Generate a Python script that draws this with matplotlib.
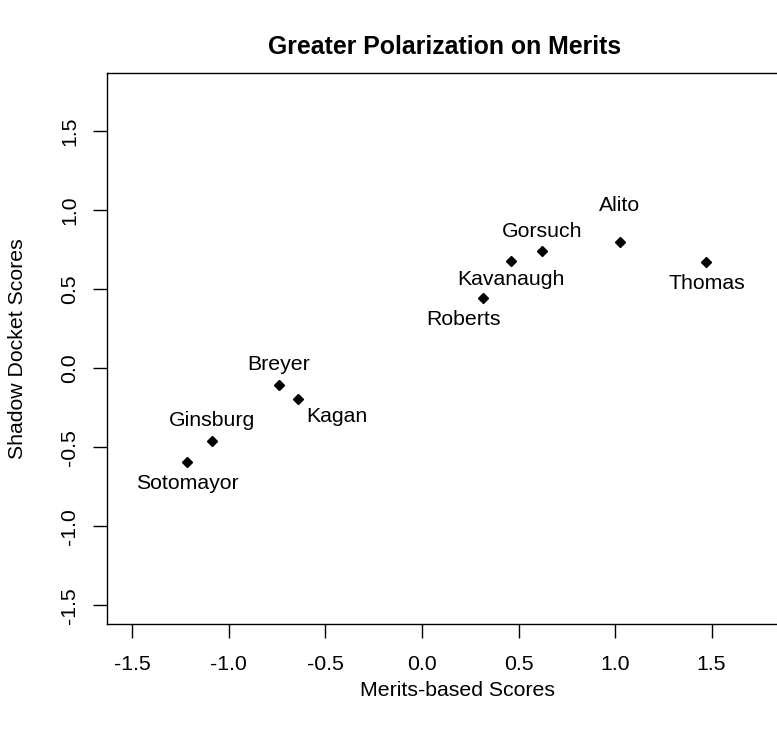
import matplotlib
matplotlib.use("Agg")
import matplotlib.pyplot as plt

plt.rcParams['font.family'] = ['Liberation Sans', 'DejaVu Sans']

# justices and their scores
justices = ["Sotomayor", "Ginsburg", "Breyer", "Kagan", "Roberts",
            "Kavanaugh", "Gorsuch", "Alito", "Thomas"]
merits = [-1.217, -1.088, -0.741, -0.644, 0.314, 0.459, 0.622, 1.025, 1.473]
shadow = [-0.595, -0.458, -0.104, -0.194, 0.445, 0.681, 0.744, 0.795, 0.673]
ticks = [-1.5, -1.0, -0.5, 0.0, 0.5, 1.0, 1.5]

# label offsets in pixels (where each name sits relative to its point)
offsets = {"Sotomayor": (0, -21), "Ginsburg": (0, 20), "Breyer": (0, 20),
           "Kagan": (39, -18), "Roberts": (-19, -22), "Kavanaugh": (0, -19),
           "Gorsuch": (0, 19), "Alito": (0, 37), "Thomas": (0, -22)}

fs = 15.3

fig = plt.figure(figsize=(7.77, 7.29), dpi=100)
ax = fig.add_axes([107/777, 1-624/729, (785-107)/777, (624-73)/729])

ax.plot(merits, shadow, linestyle="none", marker="D", markersize=5, color="black")
for name, x, y in zip(justices, merits, shadow):
    dx, dy = offsets[name]
    ax.annotate(name, (x, y), xytext=(dx, dy), textcoords="offset pixels",
                ha="center", va="center", fontsize=fs)

ax.set_xlim(-1.631, 1.88)
ax.set_ylim(-1.618, 1.867)
ax.set_xticks(ticks)
ax.set_yticks(ticks)
ax.set_xticklabels(["%.1f" % t for t in ticks])
ax.set_yticklabels(["%.1f" % t for t in ticks], rotation=90, va="center")
ax.tick_params(axis="x", length=10, width=1, labelsize=fs, pad=12)
ax.tick_params(axis="y", length=10, width=1, labelsize=fs, pad=10)
for s in ax.spines.values():
    s.set_linewidth(1)

fig.text(445/777, 1-47/729, "Greater Polarization on Merits", ha="center", va="center",
         fontsize=17.9, fontweight="bold")
fig.text(458/777, 1-691/729, "Merits-based Scores", ha="center", va="center", fontsize=fs)
fig.text(18/777, 1-349/729, "Shadow Docket Scores", ha="center", va="center",
         fontsize=fs, rotation=90)

fig.savefig("out.png", dpi=100)
